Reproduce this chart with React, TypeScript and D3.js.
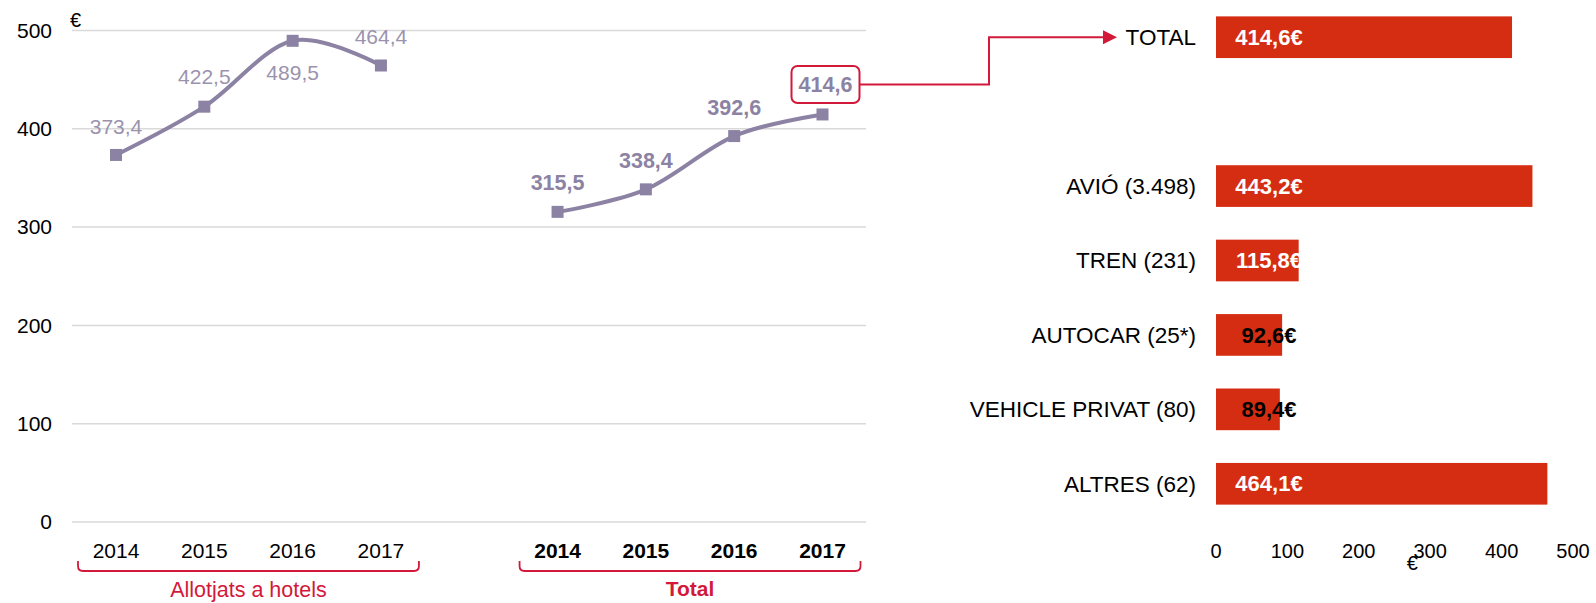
import React from "react";
import * as d3 from "d3";

const years = ["2014", "2015", "2016", "2017"];
const hotelValues = [373.4, 422.5, 489.5, 464.4];
const totalValues = [315.5, 338.4, 392.6, 414.6];
const hotelLabelOffsets = [-28, -30, 32, -29];
const groupNames = ["Allotjats a hotels", "Total"];
const yTicks = [0, 100, 200, 300, 400, 500];

const barCategories = ["TOTAL", "", "AVIÓ (3.498)", "TREN (231)", "AUTOCAR (25*)", "VEHICLE PRIVAT (80)", "ALTRES (62)"];
const barValues = [414.6, null, 443.2, 115.8, 92.6, 89.4, 464.1];
const barLabels = ["414,6€", "", "443,2€", "115,8€", "92,6€", "89,4€", "464,1€"];
const barLabelDark = [false, false, false, false, true, true, false];
const barTicks = [0, 100, 200, 300, 400, 500];

const FONT = "'Liberation Sans', Arial, Helvetica, sans-serif";
const LINE = "#8c82a3";
const LABEL_LIGHT = "#9b93ae";
const RED = "#d2193a";
const BAR = "#d52d12";
const GRID = "#d9d9d9";

const fmt = (v: number) => v.toFixed(1).replace(".", ",");

export default function App() {
  const W = 1596, H = 603;
  const slots = [...years.map(y => "h" + y), "gap", ...years.map(y => "t" + y)];
  const x = d3.scalePoint<string>().domain(slots).range([116, 822.5]).padding(0);
  const y = d3.scaleLinear().domain([0, 500]).range([522, 30.5]);

  const line = d3.line<[number, number]>().x(d => d[0]).y(d => d[1]).curve(d3.curveCardinal.tension(0));
  const hotelPts: [number, number][] = hotelValues.map((v, i) => [x("h" + years[i])!, y(v)]);
  const totalPts: [number, number][] = totalValues.map((v, i) => [x("t" + years[i])!, y(v)]);

  const by = d3.scaleBand<string>().domain(barCategories.map((c, i) => i + "")).range([0, 521]).paddingInner(0.44).paddingOuter(0.22);
  const bx = d3.scaleLinear().domain([0, 500]).range([1216, 1573]);

  const last = totalPts[totalPts.length - 1];
  const boxCx = last[0] + 3, boxCy = last[1] - 30;
  const boxW = 68, boxH = 37;
  const totalBarCy = by("0")! + by.bandwidth() / 2;
  const elbowX = 989;
  const arrowTip = 1117;

  const brace = (x0: number, x1: number) => {
    const top = 561, bot = 571, r = 5;
    return `M${x0},${top} L${x0},${bot - r} Q${x0},${bot} ${x0 + r},${bot} L${x1 - r},${bot} Q${x1},${bot} ${x1},${bot - r} L${x1},${top}`;
  };
  const hx0 = x("h2014")! - 38, hx1 = x("h2017")! + 38;
  const tx0 = x("t2014")! - 38, tx1 = x("t2017")! + 38;

  return (
    <svg width={W} height={H} style={{ position: "absolute", left: 0, top: 0, background: "#fff" }} fontFamily={FONT}>
      {/* gridlines */}
      {yTicks.map(t => (
        <g key={t}>
          <line x1={72} x2={866} y1={y(t)} y2={y(t)} stroke={GRID} strokeWidth={1.5} />
          <text x={52} y={y(t)} dy="0.35em" textAnchor="end" fontSize={21} fill="#000">{t}</text>
        </g>
      ))}
      <text x={70} y={27} fontSize={20} fill="#000">€</text>

      {/* lines */}
      <path d={line(hotelPts)!} fill="none" stroke={LINE} strokeWidth={4} />
      <path d={line(totalPts)!} fill="none" stroke={LINE} strokeWidth={4} />
      {[...hotelPts, ...totalPts].map((p, i) => (
        <rect key={i} x={p[0] - 6} y={p[1] - 6} width={12} height={12} fill={LINE} />
      ))}

      {/* data labels */}
      {hotelPts.map((p, i) => (
        <text key={"hl" + i} x={p[0]} y={p[1] + hotelLabelOffsets[i]} dy="0.35em" textAnchor="middle" fontSize={21} fill={LABEL_LIGHT}>{fmt(hotelValues[i])}</text>
      ))}
      {totalPts.map((p, i) => (
        <text key={"tl" + i} x={i === totalPts.length - 1 ? boxCx : p[0]} y={i === totalPts.length - 1 ? boxCy : p[1] - 29} dy="0.35em" textAnchor="middle" fontSize={21.5} fontWeight="bold" fill={LINE}>{fmt(totalValues[i])}</text>
      ))}

      {/* highlight box + connector */}
      <rect x={boxCx - boxW / 2} y={boxCy - boxH / 2} width={boxW} height={boxH} rx={6} fill="none" stroke={RED} strokeWidth={2} />
      <path d={`M${boxCx + boxW / 2},${boxCy} L${elbowX},${boxCy} L${elbowX},${totalBarCy} L${arrowTip - 12},${totalBarCy}`} fill="none" stroke={RED} strokeWidth={2} />
      <path d={`M${arrowTip - 14},${totalBarCy - 7} L${arrowTip},${totalBarCy} L${arrowTip - 14},${totalBarCy + 7} Z`} fill={RED} />

      {/* category labels */}
      {years.map(yr => (
        <text key={"hc" + yr} x={x("h" + yr)!} y={551} dy="0.35em" textAnchor="middle" fontSize={21} fill="#000">{yr}</text>
      ))}
      {years.map(yr => (
        <text key={"tc" + yr} x={x("t" + yr)!} y={551} dy="0.35em" textAnchor="middle" fontSize={21} fontWeight="bold" fill="#000">{yr}</text>
      ))}
      <path d={brace(hx0, hx1)} fill="none" stroke={RED} strokeWidth={1.8} />
      <path d={brace(tx0, tx1)} fill="none" stroke={RED} strokeWidth={1.8} />
      <text x={(hx0 + hx1) / 2} y={589} dy="0.35em" textAnchor="middle" fontSize={21.5} fill={RED}>{groupNames[0]}</text>
      <text x={(tx0 + tx1) / 2} y={589} dy="0.35em" textAnchor="middle" fontSize={21} fontWeight="bold" fill={RED}>{groupNames[1]}</text>

      {/* bar chart */}
      {barCategories.map((c, i) => {
        const v = barValues[i];
        if (v == null) return null;
        const yy = by(i + "")!;
        const cy = yy + by.bandwidth() / 2;
        return (
          <g key={"b" + i}>
            <text x={1196} y={cy} dy="0.35em" textAnchor="end" fontSize={22.5} fill="#000">{c}</text>
            <rect x={bx(0)} y={yy} width={bx(v) - bx(0)} height={by.bandwidth()} fill={BAR} />
            <text x={bx(0) + 53} y={cy} dy="0.35em" textAnchor="middle" fontSize={22} fontWeight="bold" fill={barLabelDark[i] ? "#000" : "#fff"}>{barLabels[i]}</text>
          </g>
        );
      })}
      {barTicks.map(t => (
        <text key={"bt" + t} x={bx(t)} y={551} dy="0.35em" textAnchor="middle" fontSize={20} fill="#000">{t}</text>
      ))}
      <text x={bx(275)} y={563} dy="0.35em" textAnchor="middle" fontSize={20} fill="#000">€</text>
    </svg>
  );
}
